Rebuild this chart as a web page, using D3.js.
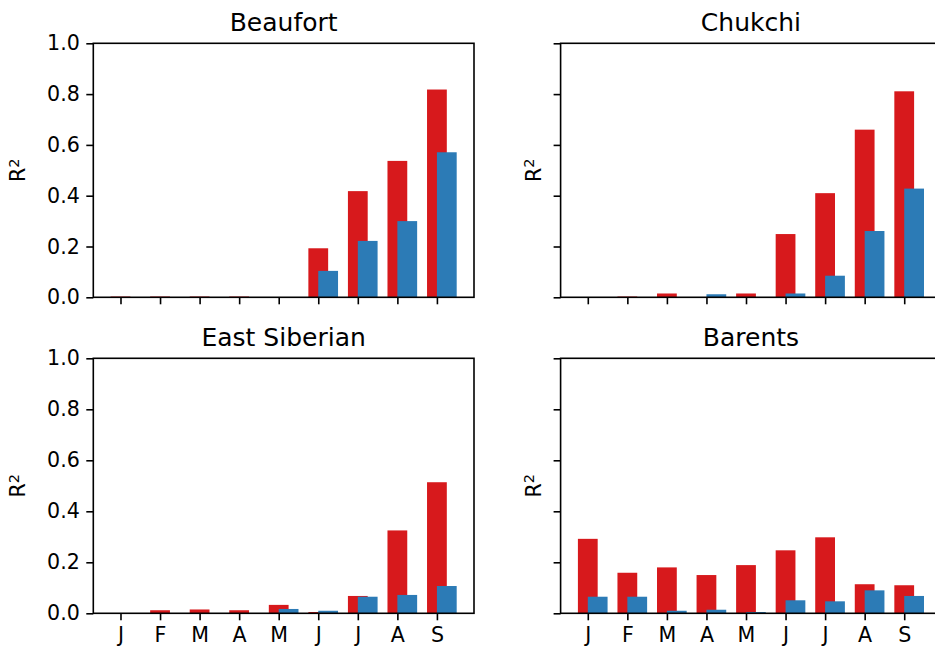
<!DOCTYPE html>
<html>
<head>
<meta charset="utf-8">
<script src="https://cdn.jsdelivr.net/npm/d3@7"></script>
<style>
  html, body { margin: 0; padding: 0; background: #fff; }
  svg { display: block; }
  text { font-family: "DejaVu Sans", sans-serif; fill: #000; }
</style>
</head>
<body>
<svg id="chart" width="935" height="654"></svg>
<script>
// ---- data ----
const months = ["J", "F", "M", "A", "M", "J", "J", "A", "S"];
const regions = ["Beaufort", "Chukchi", "East Siberian", "Barents"];
const yTicks = [0.0, 0.2, 0.4, 0.6, 0.8, 1.0];

const beaufortRed  = [0.003, 0.003, 0.003, 0.003, 0.0, 0.193, 0.418, 0.537, 0.818];
const beaufortBlue = [0.0, 0.0, 0.0, 0.0, 0.0, 0.104, 0.222, 0.300, 0.571];

const chukchiRed  = [0.0, 0.003, 0.015, 0.0, 0.015, 0.249, 0.410, 0.660, 0.811];
const chukchiBlue = [0.0, 0.0, 0.0, 0.012, 0.0, 0.015, 0.085, 0.261, 0.428];

const eastSibRed  = [0.0, 0.012, 0.015, 0.012, 0.033, 0.005, 0.068, 0.325, 0.514];
const eastSibBlue = [0.0, 0.0, 0.0, 0.0, 0.017, 0.010, 0.065, 0.072, 0.107];

const barentsRed  = [0.292, 0.159, 0.180, 0.150, 0.189, 0.247, 0.298, 0.114, 0.110];
const barentsBlue = [0.065, 0.065, 0.010, 0.014, 0.005, 0.051, 0.047, 0.090, 0.068];

const redSeries  = [beaufortRed, chukchiRed, eastSibRed, barentsRed];
const blueSeries = [beaufortBlue, chukchiBlue, eastSibBlue, barentsBlue];

// ---- layout ----
const svg = d3.select("#chart");
const RED = "#d7191c", BLUE = "#2c7bb6";
const panelW = 380.7;
const cols = [93.3, 560.6];
const rows = [{top: 43.3, bottom: 297.3}, {top: 358.3, bottom: 613.3}];
const barW = 0.5;

regions.forEach((name, k) => {
  const col = k % 2, row = Math.floor(k / 2);
  const x0 = cols[col], r = rows[row];
  const g = svg.append("g");

  const x = d3.scaleLinear().domain([-0.6875, 8.9375]).range([x0, x0 + panelW]);
  const y = d3.scaleLinear().domain([0, 1]).range([r.bottom, r.top]);

  // bars: red centered at i, blue shifted right by half bar width
  g.selectAll("rect.red").data(redSeries[k]).join("rect")
    .attr("x", (d, i) => x(i - barW / 2))
    .attr("width", (d, i) => x(i + barW / 2) - x(i - barW / 2))
    .attr("y", d => y(d))
    .attr("height", d => y(0) - y(d))
    .attr("fill", RED);
  g.selectAll("rect.blue").data(blueSeries[k]).join("rect")
    .attr("x", (d, i) => x(i))
    .attr("width", (d, i) => x(i + barW) - x(i))
    .attr("y", d => y(d))
    .attr("height", d => y(0) - y(d))
    .attr("fill", BLUE);

  // axes
  const yAxis = d3.axisLeft(y).tickValues(yTicks)
    .tickFormat(col === 0 ? d3.format(".1f") : () => "")
    .tickSize(7).tickPadding(6.5);
  const ya = g.append("g").attr("transform", `translate(${x0},0)`).call(yAxis);
  const xAxis = d3.axisBottom(x).tickValues(d3.range(months.length))
    .tickFormat(row === 1 ? (i => months[i]) : () => "")
    .tickSize(7).tickPadding(7);
  const xa = g.append("g").attr("transform", `translate(0,${r.bottom})`).call(xAxis);
  [ya, xa].forEach(a => {
    a.select(".domain").remove();
    a.selectAll(".tick line").attr("stroke", "#000").attr("stroke-width", 1.6);
    a.selectAll(".tick text").style("font-size", "20.6px").attr("fill", "#111")
      .style("font-family", "DejaVu Sans, sans-serif");
  });
  xa.selectAll(".tick text").attr("dy", "0.72em");

  // frame
  g.append("rect").attr("x", x0).attr("y", r.top)
    .attr("width", panelW).attr("height", r.bottom - r.top)
    .attr("fill", "none").attr("stroke", "#000").attr("stroke-width", 1.6);

  // title
  g.append("text").attr("x", x0 + panelW / 2).attr("y", r.top - 12.5)
    .attr("text-anchor", "middle").attr("fill", "#111").style("font-size", "25px").text(name);

  // y label
  const lx = col === 0 ? x0 - 75 : x0 - 27;
  const ly = (r.top + r.bottom) / 2;
  const t = g.append("text")
    .attr("transform", `translate(${lx + 7},${ly}) rotate(-90)`)
    .attr("text-anchor", "middle").attr("fill", "#111").style("font-size", "20.6px");
  t.append("tspan").text("R");
  t.append("tspan").attr("dy", "-0.45em").style("font-size", "14.5px").text("2");
});
</script>
</body>
</html>
